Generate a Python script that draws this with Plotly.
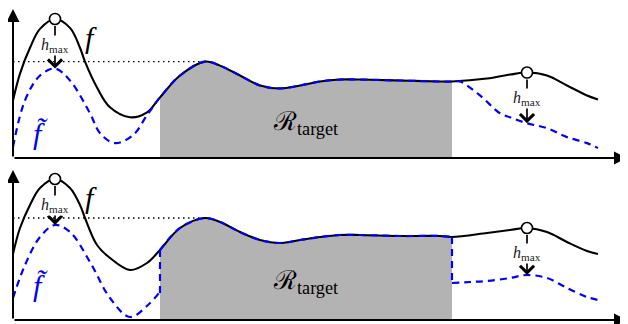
import plotly.graph_objects as go

# x positions (origin at the y axis), heights above the x axis
x_f = [0, 7, 17, 27, 42, 57, 67, 72, 84, 97, 117, 134, 147, 167, 192, 207, 227, 247, 267,
       287, 307, 327, 347, 387, 427, 439, 474, 497, 514, 534, 554, 574, 585]
f_top = [58, 85, 111, 130, 140, 131, 111, 97, 71, 51, 41, 46, 61, 83, 97, 93, 83, 73, 70,
         73, 77, 79, 79, 78, 77, 77, 80, 84, 86, 83, 73, 63, 59]
f_bot = [66, 92, 115, 132, 141, 132, 115, 102, 75, 62, 50, 57, 70, 92, 102, 98, 88, 80, 77,
         80, 83, 85, 85, 84, 84, 83, 87, 90, 92, 88, 78, 69, 66]

# f-tilde, top panel: left part, then follows f on the target region, then right part
g_top_xl = [0, 12, 27, 42, 57, 77, 87, 102, 120, 134]
g_top_l = [11, 58, 83, 90, 78, 45, 25, 15, 23, 43]
g_top_xr = [447, 467, 487, 497, 514, 534, 554, 574, 585]
g_top_r = [77, 63, 45, 41, 35, 30, 21, 15, 10]

# f-tilde, bottom panel
g_bot_xl = [0, 12, 27, 42, 57, 77, 97, 117, 135, 146]
g_bot_l = [22, 55, 83, 95, 88, 58, 22, 3, 15, 27]
g_bot_xr = [439, 457, 474, 497, 514, 534, 554, 574, 585]
g_bot_r = [37, 38, 39, 42, 45, 42, 32, 23, 20]

i0, i1 = 12, 26  # target region = x_f[12] .. x_f[25]
peaks = [42, 514]
dotted_top, dotted_bot = 97, 102

BLUE = '#0000ff'
GREY = '#b3b3b3'
SERIF = 'Liberation Serif'
DASH = '7px,5px'

fig = go.Figure()


def panel(xa, ya, f, gxl, gl, gxr, gr, dot, vert):
    xs = x_f[i0:i1]
    fs = f[i0:i1]
    fig.add_trace(go.Scatter(x=xs, y=fs, fill='tozeroy', fillcolor=GREY, mode='none',
                             line=dict(shape='spline'), xaxis=xa, yaxis=ya))
    fig.add_trace(go.Scatter(x=[0, x_f[14]], y=[dot, dot], mode='lines',
                             line=dict(color='black', width=1.3, dash='1.5px,3.5px'),
                             xaxis=xa, yaxis=ya))
    fig.add_trace(go.Scatter(x=x_f, y=f, mode='lines',
                             line=dict(color='black', width=2.1, shape='spline'),
                             xaxis=xa, yaxis=ya))
    dash = dict(color=BLUE, width=2.2, dash=DASH, shape='spline')
    if vert:
        fig.add_trace(go.Scatter(x=gxl, y=gl, mode='lines', line=dash, xaxis=xa, yaxis=ya))
        fig.add_trace(go.Scatter(x=[x_f[i0], x_f[i0]], y=[gl[-1], f[i0]], mode='lines',
                                 line=dict(color=BLUE, width=2.2, dash=DASH),
                                 xaxis=xa, yaxis=ya))
        fig.add_trace(go.Scatter(x=xs, y=fs, mode='lines', line=dash, xaxis=xa, yaxis=ya))
        fig.add_trace(go.Scatter(x=[x_f[i1 - 1], x_f[i1 - 1]], y=[f[i1 - 1], gr[0]],
                                 mode='lines', line=dict(color=BLUE, width=2.2, dash=DASH),
                                 xaxis=xa, yaxis=ya))
        fig.add_trace(go.Scatter(x=gxr, y=gr, mode='lines', line=dash, xaxis=xa, yaxis=ya))
    else:
        fig.add_trace(go.Scatter(x=gxl + xs + gxr, y=gl + fs + gr, mode='lines', line=dash,
                                 xaxis=xa, yaxis=ya))
    # peak markers
    py = [f[x_f.index(p)] for p in peaks]
    fig.add_trace(go.Scatter(x=peaks, y=py, mode='markers',
                             marker=dict(symbol='circle', size=11, color='white',
                                         line=dict(color='black', width=1.6)),
                             xaxis=xa, yaxis=ya))


panel('x', 'y', f_top, g_top_xl, g_top_l, g_top_xr, g_top_r, dotted_top, False)
panel('x2', 'y2', f_bot, g_bot_xl, g_bot_l, g_bot_xr, g_bot_r, dotted_bot, True)

ann = []


def arrow(xr, yr, x, y, ax, ay, head=2, w=2, size=1.3):
    ann.append(dict(xref=xr, yref=yr, axref=xr, ayref=yr, x=x, y=y, ax=ax, ay=ay, text='',
                    showarrow=True, arrowhead=head, arrowsize=size, arrowwidth=w,
                    arrowcolor='black', standoff=0))


def label(xr, yr, x, y, text, size, color='black', bg=None):
    d = dict(xref=xr, yref=yr, x=x, y=y, text=text, showarrow=False,
             font=dict(family=SERIF, size=size, color=color))
    if bg:
        d['bgcolor'] = bg
        d['borderpad'] = 0
    ann.append(d)


hm = '<i>h</i><sub>max</sub>'
for xr, yr, f, tips, labs, fy, gy, ry in [
        ('x', 'y', f_top, [90, 35], [113, 60], 121, 25, 35),
        ('x2', 'y2', f_bot, [95, 45], [115, 67], 123, 35, 38)]:
    arrow(xr, yr, 0, 150, 0, 0)
    arrow(xr, yr, 614, 0, 0, 0)
    for p, t, l in zip(peaks, tips, labs):
        top = f[x_f.index(p)] - 5.5
        arrow(xr, yr, p, t, p, top, head=4, w=1.7, size=1.6)
        label(xr, yr, p, l, hm, 16, '#222', bg='white')
    label(xr, yr, 78, fy, '<i>f</i>', 30)
    label(xr, yr, 27, gy, '<i>f\u0303</i>', 30, BLUE)
    label(xr, yr, 292, ry, '\u211b<sub>target</sub>', 26)

# page body has an 8px margin, so the figure is 8px smaller and shifted
fig.update_layout(
    width=620, height=316, margin=dict(l=0, r=0, t=0, b=0),
    paper_bgcolor='white', plot_bgcolor='white', showlegend=False,
    annotations=ann,
    xaxis=dict(range=[-5, 615], visible=False, domain=[0, 1]),
    xaxis2=dict(range=[-5, 615], visible=False, domain=[0, 1], anchor='y2'),
    yaxis=dict(range=[0, 151], visible=False, domain=[0.5253, 1.0]),
    yaxis2=dict(range=[0, 150], visible=False, domain=[0.01266, 0.48734], anchor='x2'),
)

fig.write_html("out.html")
